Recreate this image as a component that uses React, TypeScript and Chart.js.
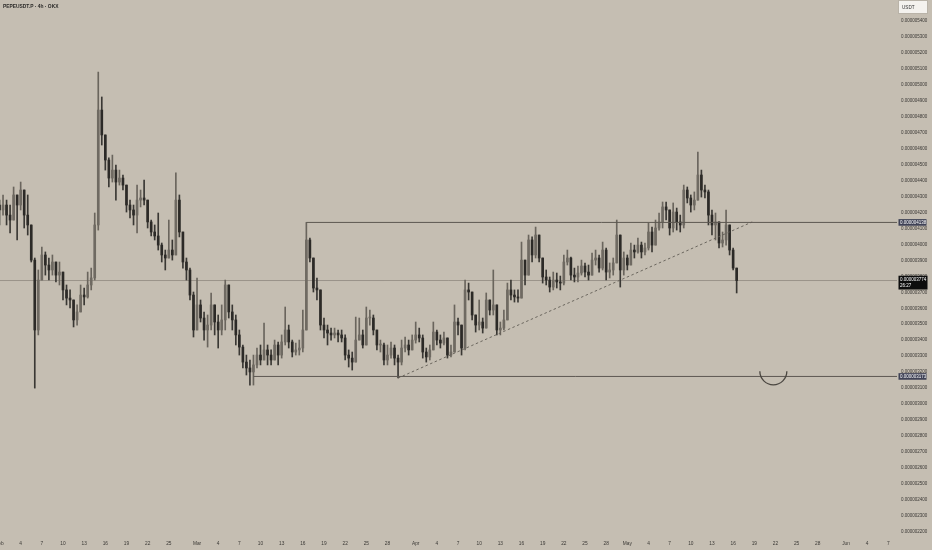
import { useEffect, useRef } from "react";
import { Chart, registerables } from "chart.js";

Chart.register(...registerables);

const TITLE = "PEPEUSDT.P · 4h · OKX";
const QUOTE = "USDT";
const COUNTDOWN = "26:27";

// time in days since Feb 1, one candle every 12h
const FIRST_CANDLE_DAY = 0;
const CANDLE_STEP_DAYS = 0.5;
const FIRST_OPEN = 4247;

// prices in units of 1e-9 USDT
const closes = [
  4216, 4247, 4184, 4153, 4310, 4247, 4341, 4184, 4122, 3902,
  3464, 3777, 3934, 3871, 3840, 3890, 3808, 3827, 3715, 3664,
  3652, 3527, 3577, 3683, 3671, 3746, 3790, 4122, 4842, 4686,
  4529, 4416, 4466, 4391, 4416, 4372, 4247, 4216, 4184, 4278,
  4291, 4278, 4141, 4078, 4053, 3996, 3934, 3915, 3965, 3934,
  4278, 4078, 3890, 3840, 3683, 3464, 3621, 3539, 3464, 3495,
  3621, 3514, 3464, 3527, 3746, 3577, 3527, 3433, 3357, 3263,
  3226, 3201, 3245, 3307, 3276, 3339, 3307, 3276, 3370, 3307,
  3389, 3464, 3389, 3326, 3339, 3351, 3464, 4028, 3915, 3727,
  3715, 3495, 3464, 3445, 3433, 3445, 3433, 3414, 3307, 3288,
  3263, 3401, 3433, 3370, 3539, 3539, 3464, 3370, 3370, 3276,
  3307, 3351, 3288, 3263, 3351, 3370, 3339, 3401, 3433, 3414,
  3326, 3295, 3339, 3451, 3401, 3382, 3414, 3307, 3326, 3514,
  3495, 3351, 3715, 3702, 3558, 3495, 3514, 3476, 3652, 3589,
  3621, 3464, 3476, 3527, 3715, 3683, 3671, 3664, 3902, 3808,
  4028, 3934, 4059, 3915, 3796, 3777, 3733, 3777, 3765, 3758,
  3890, 3915, 3808, 3796, 3821, 3865, 3827, 3808, 3902, 3915,
  3852, 3965, 3827, 3840, 3884, 4059, 3840, 3915, 3871, 3965,
  3953, 3996, 3953, 3978, 4078, 3996, 4103, 4141, 4235, 4216,
  4103, 4203, 4141, 4122, 4341, 4291, 4247, 4278, 4435, 4341,
  4329, 4184, 4122, 4141, 4009, 4028, 4122, 3965, 3852, 3774,
];

const highs = [
  4278, 4310, 4278, 4247, 4360, 4310, 4391, 4291, 4310, 4090,
  3915, 3840, 3984, 3953, 3915, 3934, 3871, 3890, 3827, 3746,
  3715, 3652, 3621, 3746, 3727, 3827, 3852, 4197, 5080, 4924,
  4686, 4542, 4560, 4498, 4466, 4435, 4372, 4278, 4247, 4372,
  4341, 4404, 4278, 4153, 4122, 4197, 4009, 3965, 4153, 4028,
  4448, 4310, 4059, 3915, 3852, 3702, 3790, 3652, 3577, 3558,
  3696, 3621, 3558, 3621, 3777, 3727, 3621, 3558, 3464, 3370,
  3307, 3276, 3307, 3351, 3370, 3508, 3370, 3339, 3401, 3389,
  3433, 3608, 3495, 3401, 3382, 3401, 3589, 4138, 4040, 3915,
  3790, 3715, 3539, 3495, 3476, 3476, 3464, 3464, 3433, 3339,
  3326, 3545, 3539, 3464, 3608, 3589, 3558, 3464, 3401, 3382,
  3370, 3389, 3370, 3307, 3401, 3420, 3401, 3433, 3514, 3476,
  3433, 3351, 3370, 3514, 3464, 3433, 3451, 3401, 3370, 3621,
  3539, 3433, 3777, 3758, 3683, 3558, 3652, 3539, 3696, 3652,
  3840, 3621, 3514, 3589, 3758, 3777, 3715, 3715, 4015, 3902,
  4059, 4047, 4109, 4028, 3890, 3840, 3796, 3827, 3821, 3802,
  3934, 3965, 3921, 3852, 3865, 3902, 3884, 3871, 3946, 3965,
  3934, 4015, 3978, 3884, 3915, 4153, 3965, 3953, 3934, 4009,
  3996, 4040, 4015, 4009, 4134, 4109, 4153, 4197, 4266, 4266,
  4203, 4260, 4228, 4184, 4372, 4360, 4310, 4329, 4579, 4466,
  4372, 4341, 4216, 4197, 4122, 4078, 4216, 4122, 3978, 3852,
];

const lows = [
  4122, 4184, 4122, 4072, 4184, 4028, 4216, 4103, 4059, 3890,
  3100, 3433, 3777, 3808, 3777, 3808, 3765, 3746, 3652, 3621,
  3602, 3483, 3495, 3577, 3621, 3664, 3715, 3777, 4090, 4623,
  4466, 4360, 4391, 4278, 4372, 4341, 4203, 4166, 4122, 4072,
  4235, 4247, 4103, 4053, 4028, 3965, 3890, 3840, 3915, 3902,
  3965, 4047, 3852, 3777, 3652, 3420, 3527, 3514, 3401, 3357,
  3464, 3433, 3351, 3433, 3464, 3539, 3464, 3370, 3307, 3226,
  3182, 3119, 3119, 3226, 3245, 3276, 3245, 3245, 3276, 3245,
  3288, 3370, 3351, 3295, 3307, 3307, 3326, 3464, 3890, 3702,
  3652, 3464, 3414, 3370, 3401, 3414, 3389, 3389, 3276, 3232,
  3213, 3276, 3401, 3351, 3370, 3495, 3433, 3339, 3326, 3245,
  3245, 3288, 3245, 3163, 3245, 3326, 3307, 3339, 3382, 3389,
  3288, 3263, 3276, 3339, 3370, 3351, 3370, 3288, 3295, 3326,
  3433, 3307, 3339, 3652, 3527, 3451, 3464, 3445, 3476, 3558,
  3558, 3433, 3433, 3464, 3527, 3652, 3639, 3639, 3683, 3746,
  3840, 3890, 3915, 3890, 3758, 3746, 3702, 3715, 3727, 3715,
  3746, 3871, 3777, 3765, 3765, 3808, 3796, 3777, 3808, 3871,
  3827, 3840, 3777, 3790, 3808, 3890, 3733, 3808, 3840, 3890,
  3915, 3946, 3915, 3934, 3965, 3953, 3996, 4090, 4103, 4153,
  4059, 4078, 4090, 4078, 4103, 4260, 4203, 4216, 4278, 4297,
  4291, 4122, 4059, 4028, 3978, 3984, 3996, 3934, 3840, 3696,
];

const xTickDays = [
  0, 3, 6, 9, 12, 15, 18, 21, 24,
  28, 31, 34, 37, 40, 43, 46, 49, 52, 55,
  59, 62, 65, 68, 71, 74, 77, 80, 83, 86,
  89, 92, 95, 98, 101, 104, 107, 110, 113, 116,
  120, 123, 126,
];
const xTickLabels = [
  "Feb", "4", "7", "10", "13", "16", "19", "22", "25",
  "Mar", "4", "7", "10", "13", "16", "19", "22", "25", "28",
  "Apr", "4", "7", "10", "13", "16", "19", "22", "25", "28",
  "May", "4", "7", "10", "13", "16", "19", "22", "25", "28",
  "Jun", "4", "7",
];
const yTickValues = [
  2200, 2300, 2400, 2500, 2600, 2700, 2800, 2900, 3000, 3100, 3200,
  3300, 3400, 3500, 3600, 3700, 3800, 3900, 4000, 4100, 4200, 4300,
  4400, 4500, 4600, 4700, 4800, 4900, 5000, 5100, 5200, 5300, 5400,
];

// drawings
const resistanceLevel = 4138;
const resistanceStartDay = 43.5;
const supportLevel = 3173;
const supportStartDay = 36;
const trendStart = { day: 56.5, price: 3163 };
const trendEnd = { day: 106.7, price: 4141 };
const arcCenter = { day: 109.7, price: 3205 };
const currentPrice = 3774;

const X_MIN = 0.07;
const X_MAX = 127.23;
const Y_MIN = 2167;
const Y_MAX = 5531.6;

const BG = "#c5beb2";
const FONT = "'Liberation Sans', Arial, sans-serif";
const fmt = (v: number) => (v * 1e-9).toFixed(9);

export default function App() {
  const ref = useRef<HTMLCanvasElement | null>(null);

  useEffect(() => {
    document.body.style.margin = "0";
    document.body.style.background = BG;
    const canvas = ref.current;
    if (!canvas) return;

    const opens: number[] = closes.map((_, i) => (i === 0 ? FIRST_OPEN : closes[i - 1]));
    const days = closes.map((_, i) => FIRST_CANDLE_DAY + i * CANDLE_STEP_DAYS);
    const up = closes.map((c, i) => c >= opens[i]);
    const wickData = closes.map((c, i) => ({
      x: days[i],
      y: [Math.min(lows[i], opens[i], c), Math.max(highs[i], opens[i], c)],
    }));
    const bodyData = closes.map((c, i) => ({
      x: days[i],
      y: [Math.min(opens[i], c), Math.max(opens[i], c)],
    }));

    const bgPlugin = {
      id: "bg",
      beforeDraw(chart: any) {
        const { ctx, width, height } = chart;
        ctx.save();
        ctx.fillStyle = BG;
        ctx.fillRect(0, 0, width, height);
        ctx.restore();
      },
    };

    const overlayPlugin = {
      id: "overlay",
      afterDraw(chart: any) {
        const { ctx, chartArea, scales } = chart;
        const xs = scales.x;
        const ys = scales.y;
        ctx.save();
        // arc
        ctx.beginPath();
        ctx.strokeStyle = "#4a4640";
        ctx.lineWidth = 1.3;
        ctx.arc(xs.getPixelForValue(arcCenter.day), ys.getPixelForValue(arcCenter.price), 13.5, 0.0 * Math.PI, 1.0 * Math.PI);
        ctx.stroke();

        // title
        ctx.fillStyle = "#2b2a28";
        ctx.font = `bold 4.9px ${FONT}`;
        ctx.textBaseline = "middle";
        ctx.textAlign = "left";
        ctx.fillText(TITLE, 3, 7);

        // USDT box
        ctx.fillStyle = "#f4f2ee";
        ctx.strokeStyle = "#b9b3a8";
        ctx.lineWidth = 1;
        ctx.fillRect(898.5, 0.5, 29, 13);
        ctx.strokeRect(898.5, 0.5, 29, 13);
        ctx.fillStyle = "#333";
        ctx.font = `4.6px ${FONT}`;
        ctx.fillText(QUOTE, 902, 7.5);

        const left = chartArea.right + 1.5;
        const box = (value: number, bg: string) => {
          const y = ys.getPixelForValue(value);
          ctx.fillStyle = bg;
          ctx.fillRect(left, y - 3.3, 28, 6.6);
          ctx.fillStyle = "#ffffff";
          ctx.font = `4.5px ${FONT}`;
          ctx.textBaseline = "middle";
          ctx.fillText(fmt(value), left + 1.5, y + 0.2);
        };
        box(resistanceLevel, "#3f4256");
        box(supportLevel, "#3f4256");

        // current price box
        const cy = ys.getPixelForValue(currentPrice);
        ctx.fillStyle = "#0d0d0d";
        ctx.fillRect(left, cy - 4.8, 29, 13.8);
        ctx.fillStyle = "#ffffff";
        ctx.font = `4.5px ${FONT}`;
        ctx.fillText(fmt(currentPrice), left + 1.5, cy - 0.6);
        ctx.fillText(COUNTDOWN, left + 1.5, cy + 5.2);
        ctx.restore();
      },
    };

    const lineDs = (data: any[], color: string, width: number, dash: number[] = [], order = 1) => ({
      type: "line" as const,
      data,
      borderColor: color,
      borderWidth: width,
      borderDash: dash,
      pointRadius: 0,
      fill: false,
      tension: 0,
      order,
    });

    const chart = new Chart(canvas, {
      type: "bar",
      data: {
        datasets: [
          lineDs([{ x: X_MIN, y: currentPrice }, { x: X_MAX, y: currentPrice }], "rgba(125,119,110,0.75)", 0.8, [], 20) as any,
          {
            type: "bar",
            data: wickData as any,
            backgroundColor: up.map((u) => (u ? "#6a655d" : "#3a3834")),
            barThickness: 1,
            grouped: false,
            borderWidth: 0,
            order: 6,
          },
          {
            type: "bar",
            data: bodyData as any,
            backgroundColor: up.map((u) => (u ? "#6f6a62" : "#2c2a27")),
            barThickness: 2,
            grouped: false,
            borderWidth: 0,
            minBarLength: 1,
            order: 5,
          },
          lineDs([{ x: resistanceStartDay, y: resistanceLevel }, { x: X_MAX, y: resistanceLevel }], "#5d5851", 1),
          lineDs([{ x: supportStartDay, y: supportLevel }, { x: X_MAX, y: supportLevel }], "#5d5851", 1),
          lineDs([{ x: trendStart.day, y: trendStart.price }, { x: trendEnd.day, y: trendEnd.price }], "#615c55", 0.9, [2.5, 2.5]),
        ],
      },
      options: {
        responsive: false,
        animation: false,
        devicePixelRatio: 1,
        layout: { padding: 0 },
        plugins: { legend: { display: false }, tooltip: { enabled: false } },
        scales: {
          x: {
            type: "linear",
            min: X_MIN,
            max: X_MAX,
            offset: false,
            grid: { display: false, drawTicks: false },
            border: { display: false },
            afterBuildTicks: (axis: any) => {
              axis.ticks = xTickDays.map((v) => ({ value: v }));
            },
            afterFit: (axis: any) => {
              axis.height = 13;
              axis.paddingLeft = 0;
              axis.paddingRight = 0;
              axis.paddingTop = 0;
              axis.paddingBottom = 0;
            },
            ticks: {
              autoSkip: false,
              maxRotation: 0,
              padding: 4,
              color: "#3a3835",
              font: { size: 4.8, family: FONT },
              callback: (_v: any, i: number) => xTickLabels[i],
            },
          },
          y: {
            type: "linear",
            position: "right",
            min: Y_MIN,
            max: Y_MAX,
            grid: { display: false, drawTicks: false },
            border: { display: false },
            afterBuildTicks: (axis: any) => {
              axis.ticks = yTickValues.map((v) => ({ value: v }));
            },
            afterFit: (axis: any) => {
              axis.width = 35;
              axis.paddingLeft = 0;
              axis.paddingRight = 0;
              axis.paddingTop = 0;
              axis.paddingBottom = 0;
            },
            ticks: {
              autoSkip: false,
              padding: 4,
              color: "#3a3835",
              font: { size: 4.5, family: FONT },
              callback: (v: any) => fmt(Number(v)),
            },
          },
        },
      } as any,
      plugins: [bgPlugin, overlayPlugin],
    });

    return () => chart.destroy();
  }, []);

  return (
    <div style={{ width: 932, height: 550, background: BG }}>
      <canvas ref={ref} width={932} height={550} style={{ display: "block" }} />
    </div>
  );
}
